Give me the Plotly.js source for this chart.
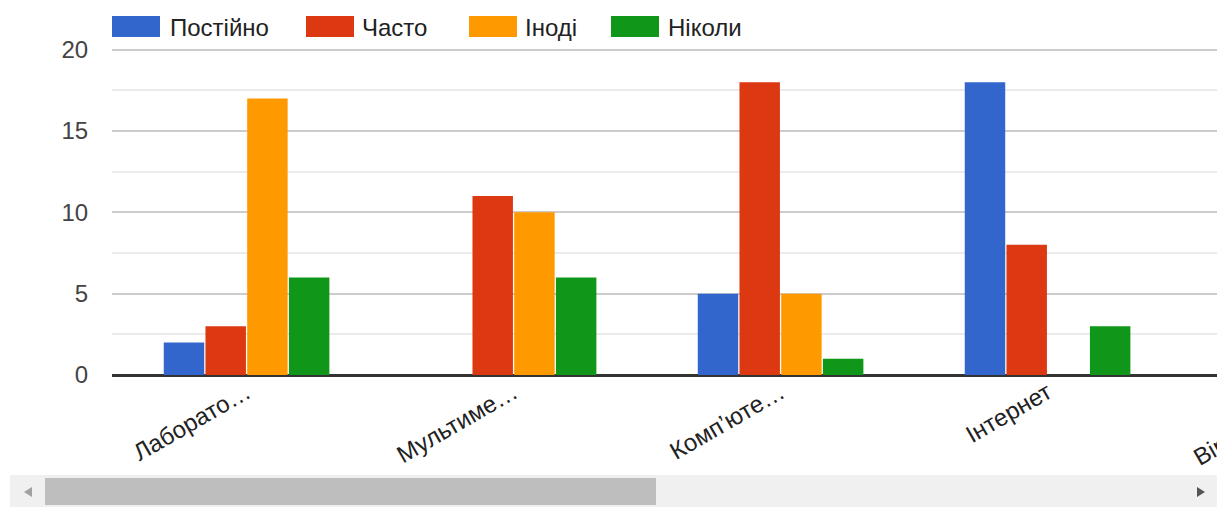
<!DOCTYPE html>
<html>
<head>
<meta charset="utf-8">
<script src="https://cdn.plot.ly/plotly-3.0.1.min.js"></script>
<style>
  html, body { margin:0; padding:0; background:#fff; width:1224px; height:507px; overflow:hidden; }
  #wrap { position:absolute; left:0; top:0; width:1217px; height:507px; overflow:hidden; }
  #chart { position:absolute; left:0; top:0; width:1600px; height:507px; }
  #track { position:absolute; left:10px; top:475px; width:1207px; height:32px; background:#f0f0f0; }
  #thumb { position:absolute; left:45px; top:478px; width:611px; height:27px; background:#bebebe; }
  #arrL { position:absolute; left:24px; top:487px; width:0; height:0; border-top:5.5px solid transparent; border-bottom:5.5px solid transparent; border-right:8px solid #a0a0a0; }
  #arrR { position:absolute; left:1197px; top:487px; width:0; height:0; border-top:5.5px solid transparent; border-bottom:5.5px solid transparent; border-left:8px solid #555; }
</style>
</head>
<body>
<div id="wrap"><div id="chart"></div></div>
<div id="track"></div>
<div id="thumb"></div>
<div id="arrL"></div>
<div id="arrR"></div>
<script>
// ---- data ----
const categories = ["Лаборато…", "Мультиме…", "Комп’юте…", "Інтернет", "Віртуальні…"];
const seriesNames = ["Постійно", "Часто", "Іноді", "Ніколи"];
const postiyno = [2, 0, 5, 18, null];
const chasto   = [3, 11, 18, 8, null];
const inodi    = [17, 10, 5, 0, null];
const nikoly   = [6, 6, 1, 3, null];
const seriesValues = [postiyno, chasto, inodi, nikoly];
const colors = ["#3366cc", "#dc3912", "#ff9900", "#109618"];

// ---- layout constants ----
const FONT = "Arial, 'Liberation Sans', sans-serif";
const marginL = 112, marginT = 9, plotW = 1388, plotH = 366;
const pxPerCat = 267;
const xStart = -0.504;

const traces = seriesValues.map((vals, i) => ({
  type: "bar",
  name: seriesNames[i],
  x: categories,
  y: vals,
  marker: { color: colors[i], line: { width: 0 } },
  hoverinfo: "skip"
}));

// custom legend (wide swatches like the original)
const legendSwatchX = [112, 306, 469, 611];
const legendTextX   = [170, 362, 525, 668];
const shapes = [], annotations = [];
seriesNames.forEach((n, i) => {
  shapes.push({
    type: "rect", xref: "paper", yref: "paper",
    xsizemode: "pixel", ysizemode: "pixel", xanchor: 0, yanchor: 1,
    x0: legendSwatchX[i] - marginL, x1: legendSwatchX[i] - marginL + 48,
    y0: -(37 - marginT), y1: -(16 - marginT),
    fillcolor: colors[i], line: { width: 0 }
  });
  annotations.push({
    text: n, xref: "paper", yref: "paper", x: 0, y: 1,
    xanchor: "left", yanchor: "middle",
    xshift: legendTextX[i] - marginL - 2, yshift: -(27 - marginT),
    showarrow: false, font: { family: FONT, size: 24, color: "#222" }
  });
});

const layout = {
  width: 1600, height: 507,
  margin: { l: marginL, r: 1600 - marginL - plotW, t: marginT, b: 507 - marginT - plotH },
  paper_bgcolor: "#ffffff", plot_bgcolor: "#ffffff",
  showlegend: false,
  barmode: "group",
  bargap: 0.375, bargroupgap: 0.03,
  font: { family: FONT },
  xaxis: {
    type: "category",
    categoryorder: "array", categoryarray: categories,
    range: [xStart, xStart + plotW / pxPerCat],
    tickangle: -30,
    ticks: "", ticklabelstandoff: -2,
    tickfont: { family: FONT, size: 24, color: "#222" },
    showgrid: false, showline: false, zeroline: false, fixedrange: true
  },
  yaxis: {
    range: [0, 22.5],
    tick0: 0, dtick: 5,
    ticks: "outside", ticklen: 18, tickcolor: "rgba(0,0,0,0)",
    tickfont: { family: FONT, size: 24, color: "#444" },
    showgrid: true, gridcolor: "#cccccc", gridwidth: 2,
    minor: { tick0: 0, dtick: 2.5, showgrid: true, gridcolor: "#ebebeb", gridwidth: 2, ticks: "" },
    zeroline: true, zerolinecolor: "#333333", zerolinewidth: 3,
    showline: false, fixedrange: true
  },
  shapes: shapes,
  annotations: annotations
};

Plotly.newPlot("chart", traces, layout, { staticPlot: true, displayModeBar: false });
</script>
</body>
</html>
